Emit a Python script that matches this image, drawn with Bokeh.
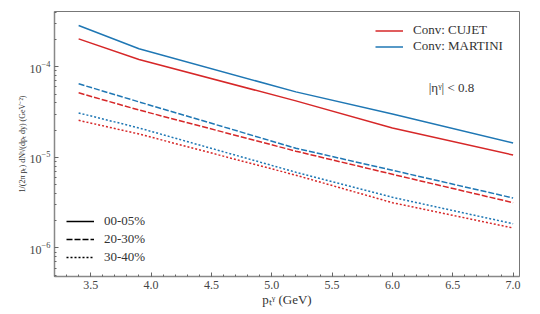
import math
from bokeh.plotting import figure
from bokeh.models import Legend, LegendItem, Label, FixedTicker, NumeralTickFormatter
from bokeh.embed import file_html
from bokeh.resources import INLINE

# ---- data ----
pt = [3.4, 3.9, 5.2, 6.0, 7.0]
cujet_00_05 = [2.03e-4, 1.20e-4, 4.20e-5, 2.11e-5, 1.06e-5]
martini_00_05 = [2.85e-4, 1.58e-4, 5.28e-5, 3.01e-5, 1.44e-5]
cujet_20_30 = [5.15e-5, 3.33e-5, 1.17e-5, 6.50e-6, 3.16e-6]
martini_20_30 = [6.48e-5, 4.09e-5, 1.26e-5, 7.20e-6, 3.56e-6]
cujet_30_40 = [2.56e-5, 1.81e-5, 6.35e-6, 3.16e-6, 1.66e-6]
martini_30_40 = [3.09e-5, 2.11e-5, 6.85e-6, 3.62e-6, 1.85e-6]
centralities = ["00-05%", "20-30%", "30-40%"]
models = ["Conv: CUJET", "Conv: MARTINI"]
x_ticks = [3.5, 4.0, 4.5, 5.0, 5.5, 6.0, 6.5, 7.0]
y_ticks = [1e-6, 1e-5, 1e-4]

RED = "#d62728"
BLUE = "#1f77b4"
FONT = "Liberation Serif"
DASHES = ["solid", "6 2", "2 2"]

X0, X1 = 3.2, 7.053
Y0, Y1 = 4.84e-7, 4.07e-4

p = figure(width=540, height=314, y_axis_type="log",
           x_range=(X0, X1), y_range=(Y0, Y1),
           output_backend="svg", toolbar_location=None,
           min_border_left=54, min_border_right=21,
           min_border_top=11, min_border_bottom=38)

# page-pixel -> data helpers for annotation placement
FL, FT, FR, FB = 54, 12, 519, 276
def dx(px):
    return X0 + (px - FL) / (FR - FL) * (X1 - X0)
def dy(py):
    l0, l1 = math.log10(Y0), math.log10(Y1)
    return 10 ** (l1 - (py - FT) / (FB - FT) * (l1 - l0))

red_r = []
blue_r = []
for ys_r, ys_b, dash in [(cujet_00_05, martini_00_05, DASHES[0]),
                         (cujet_20_30, martini_20_30, DASHES[1]),
                         (cujet_30_40, martini_30_40, DASHES[2])]:
    red_r.append(p.line(pt, ys_r, line_color=RED, line_width=1.5, line_dash=dash))
    blue_r.append(p.line(pt, ys_b, line_color=BLUE, line_width=1.5, line_dash=dash))

# placeholder black renderers (no visible data) for the centrality legend
black_r = [p.line([math.nan], [math.nan], line_color="black", line_width=1.5, line_dash=d)
           for d in DASHES]

leg_common = dict(spacing=0, glyph_width=28, label_standoff=10,
                  border_line_alpha=0, background_fill_alpha=0,
                  label_text_font=FONT, label_text_font_size="13px",
                  label_text_color="#333", margin=0, padding=2)
leg1 = Legend(items=[LegendItem(label=models[0], renderers=[red_r[0]]),
                     LegendItem(label=models[1], renderers=[blue_r[0]])],
              location=(319, 220), label_height=15, glyph_height=15, **leg_common)
leg2 = Legend(items=[LegendItem(label=c, renderers=[r]) for c, r in zip(centralities, black_r)],
              location=(10, 8), label_height=18, glyph_height=18, **leg_common)
p.add_layout(leg1)
p.add_layout(leg2)

# axes styling
p.xgrid.visible = False
p.ygrid.visible = False
p.outline_line_color = "#777"
p.outline_line_width = 1
p.xaxis.ticker = FixedTicker(ticks=x_ticks,
                             minor_ticks=[round(3.2 + 0.1 * i, 2) for i in range(0, 40)])
p.xaxis.formatter = NumeralTickFormatter(format="0.0")
p.yaxis.ticker = FixedTicker(ticks=y_ticks,
                             minor_ticks=[m * 10 ** e for e in (-7, -6, -5, -4) for m in range(2, 10)])
for ax in (p.xaxis[0], p.yaxis[0]):
    ax.axis_line_color = "#888"
    ax.axis_line_width = 1.5
    ax.major_tick_line_color = "#666"
    ax.minor_tick_line_color = "#666"
    ax.major_tick_in = 4
    ax.major_tick_out = 0
    ax.minor_tick_in = 2
    ax.minor_tick_out = 0
    ax.major_label_text_font = FONT
    ax.major_label_text_font_size = "12px"
    ax.major_label_text_color = "#444"
    ax.major_label_standoff = 4
    ax.axis_label_text_font = FONT
    ax.axis_label_text_font_style = "normal"
    ax.axis_label_text_color = "#333"
    ax.axis_label_standoff = 0

p.xaxis[0].axis_label = "pₜᵞ (GeV)"
p.xaxis[0].axis_label_text_font_size = "13px"
p.yaxis[0].axis_label = "1/(2π pₜ) dNᵞ/(dpₜ dy) (GeV⁻²)"
p.yaxis[0].axis_label_text_font_size = "8px"

# eta label
p.add_layout(Label(x=dx(451), y=dy(88), text="|ηᵞ| < 0.8", text_align="center",
                   text_baseline="middle", text_font=FONT, text_font_size="13px",
                   text_color="#333"))

open("out.html", "w").write(file_html(p, INLINE))
